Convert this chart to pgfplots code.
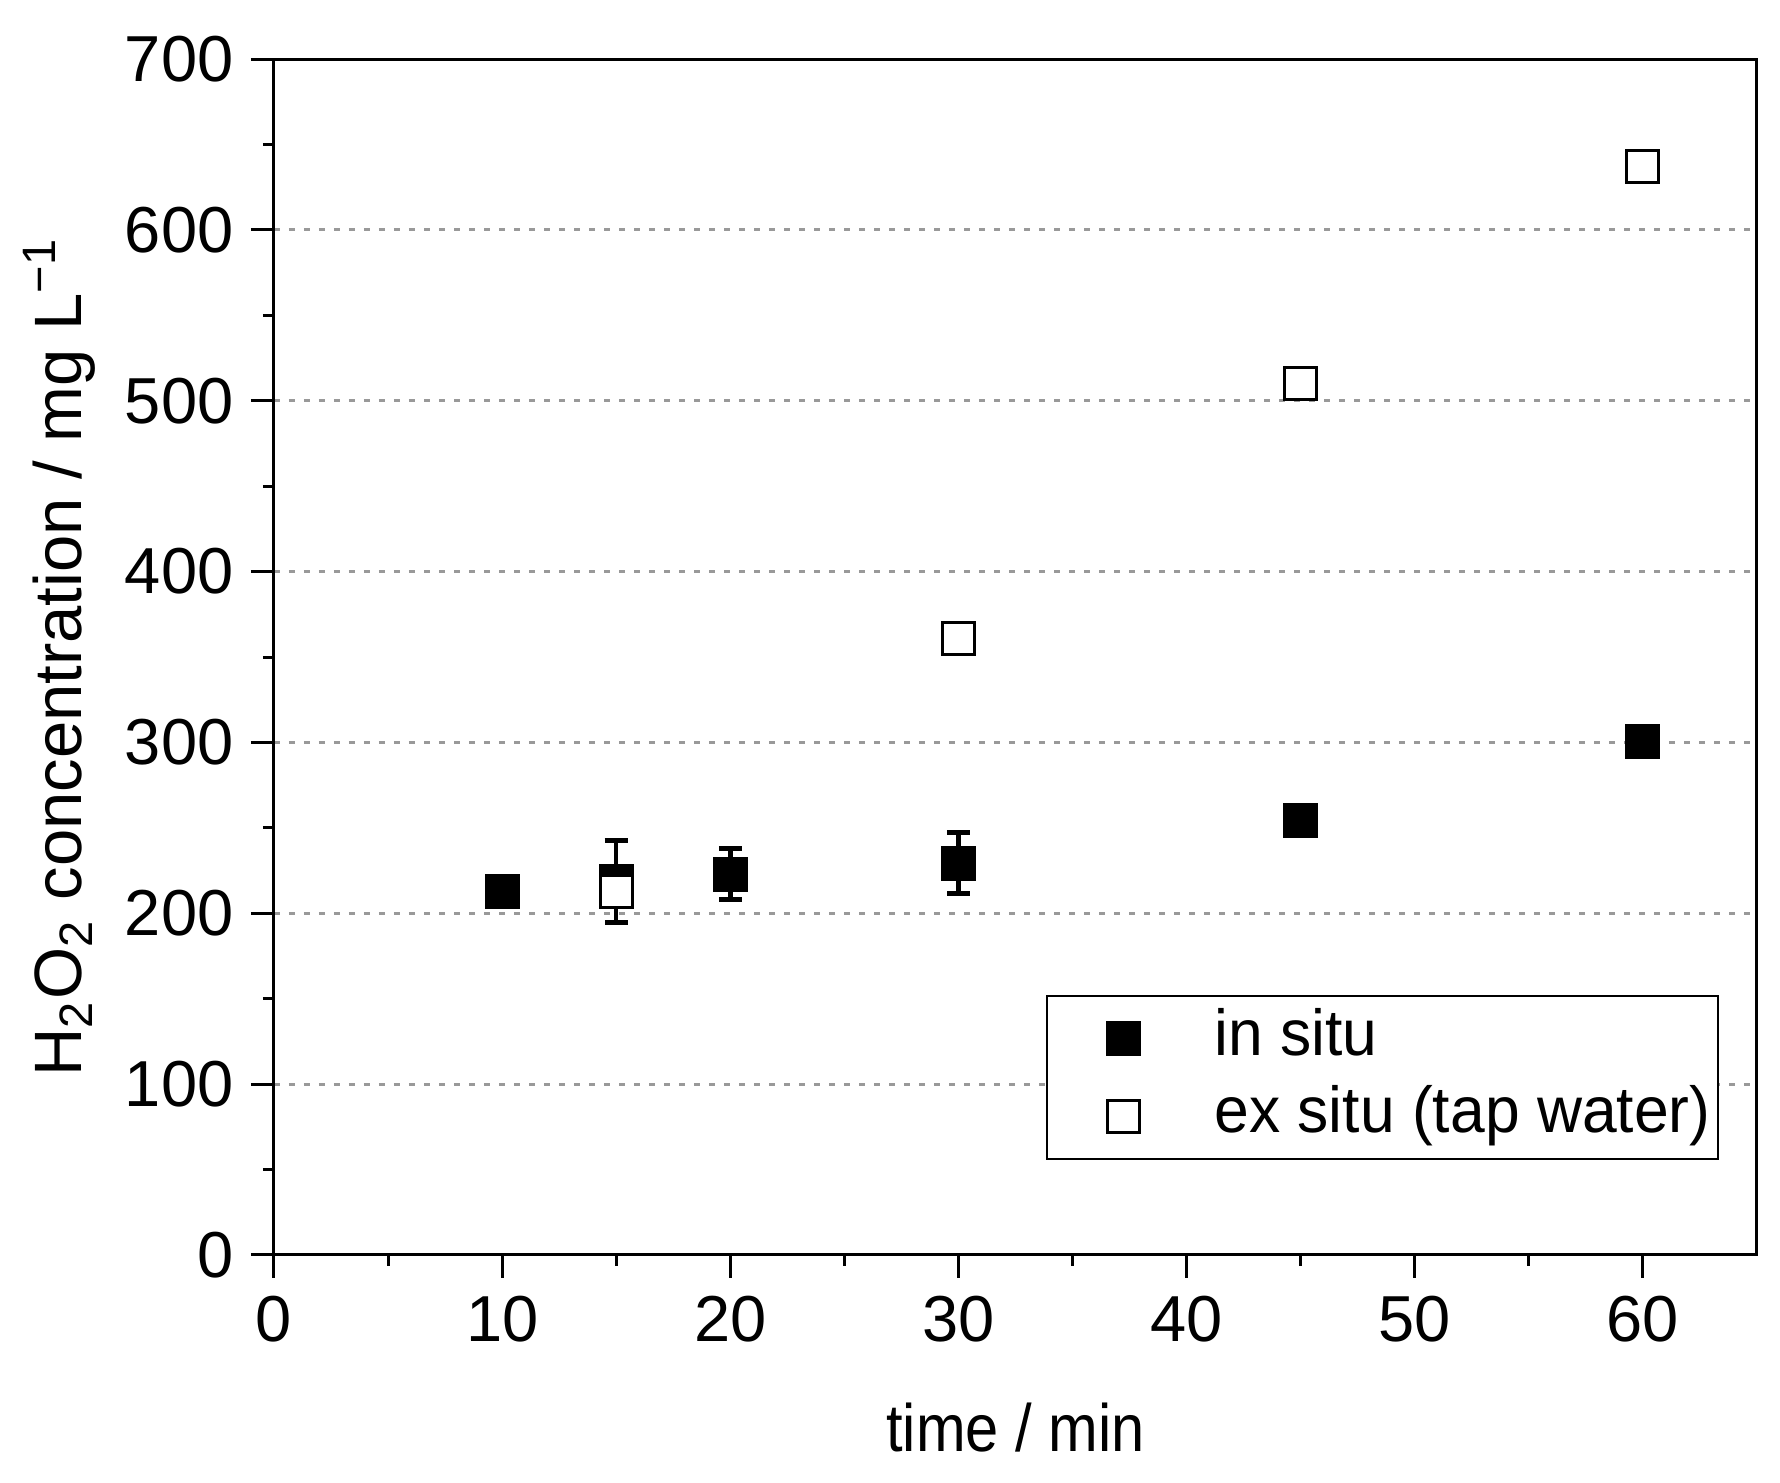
\documentclass[border=0pt]{standalone}
\usepackage{fontspec}
\setmainfont{Liberation Sans}
\newfontfamily\narrowfont[FakeStretch=0.89]{Liberation Sans}
\newfontfamily\legfont[FakeStretch=0.96]{Liberation Sans}
\usepackage{pgfplots}
\pgfplotsset{compat=1.18}

\begin{document}
\begin{tikzpicture}
\begin{axis}[
    name=main,
    scale only axis,
    width=296.6pt, height=239.2pt,
    xmin=0, xmax=65, ymin=0, ymax=700,
    xtick={0,10,...,60}, ytick={0,100,...,700},
    minor x tick num=1, minor y tick num=1,
    xtick pos=left, ytick pos=left,
    tick align=outside,
    major tick length=4.6pt, minor tick length=2.2pt,
    axis line style={line width=0.6pt},
    every tick/.style={black, line width=0.6pt},
    ymajorgrids=true,
    grid style={gray!80, line width=0.6pt, dash pattern=on 1.2pt off 1.8pt},
    axis on top,
    /pgf/number format/assume math mode=true,
    tick label style={font=\fontsize{13}{15}\selectfont},
    xlabel={\narrowfont time / min},
    ylabel={H\textsubscript{2}O\textsubscript{2} concentration / mg L\textsuperscript{−1}},
    xlabel style={at={(axis description cs:0.5,-0.1647)}, anchor=base, font=\fontsize{13.4}{15}\selectfont},
    ylabel style={at={(axis description cs:-0.1295,0.5)}, anchor=base, rotate=0, font=\fontsize{13.4}{15}\selectfont},
    legend style={at={(0.9744,0.0794)}, anchor=south east, draw=black, line width=0.4pt,
        inner xsep=0.9pt, inner ysep=1.7pt, row sep=1.8pt,
        font=\legfont\fontsize{13}{15}\selectfont,
        nodes={inner sep=0.6pt, text height=9.5pt, text depth=3pt}},
    legend cell align=left,
    legend image code/.code={\path[draw=none, fill=none] (0pt,-3pt) rectangle (32pt,3pt); \draw[#1] plot coordinates {(14.45pt,0pt)};},
]
\addplot[only marks, mark=square*, mark size=3.2pt,
    mark options={fill=black, draw=black, line width=0.6pt},
    error bars/.cd, y dir=both, y explicit,
    error bar style={black, line width=0.9pt},
    error mark options={rotate=90, mark size=2.3pt, line width=1pt, black}]
coordinates {
    (10,212.5) +- (0,0)
    (15,218.6) +- (0,24)
    (20,222.8) +- (0,15)
    (30,229.4) +- (0,17.6)
    (45,254.5) +- (0,0)
    (60,300.3) +- (0,0)
};
\addlegendentry{in situ}
\addplot[only marks, mark=square*, mark size=3.2pt,
    mark options={fill=white, draw=black, line width=0.6pt}]
coordinates {
    (15,212.6)
    (30,361)
    (45,510)
    (60,637)
};
\addlegendentry{ex situ (tap water)}
\end{axis}
\pgfresetboundingbox
\path ([shift={(-54.8pt,-45.6pt)}]main.south west) rectangle ([shift={(301.2pt,251pt)}]main.south west);
\end{tikzpicture}
\end{document}
